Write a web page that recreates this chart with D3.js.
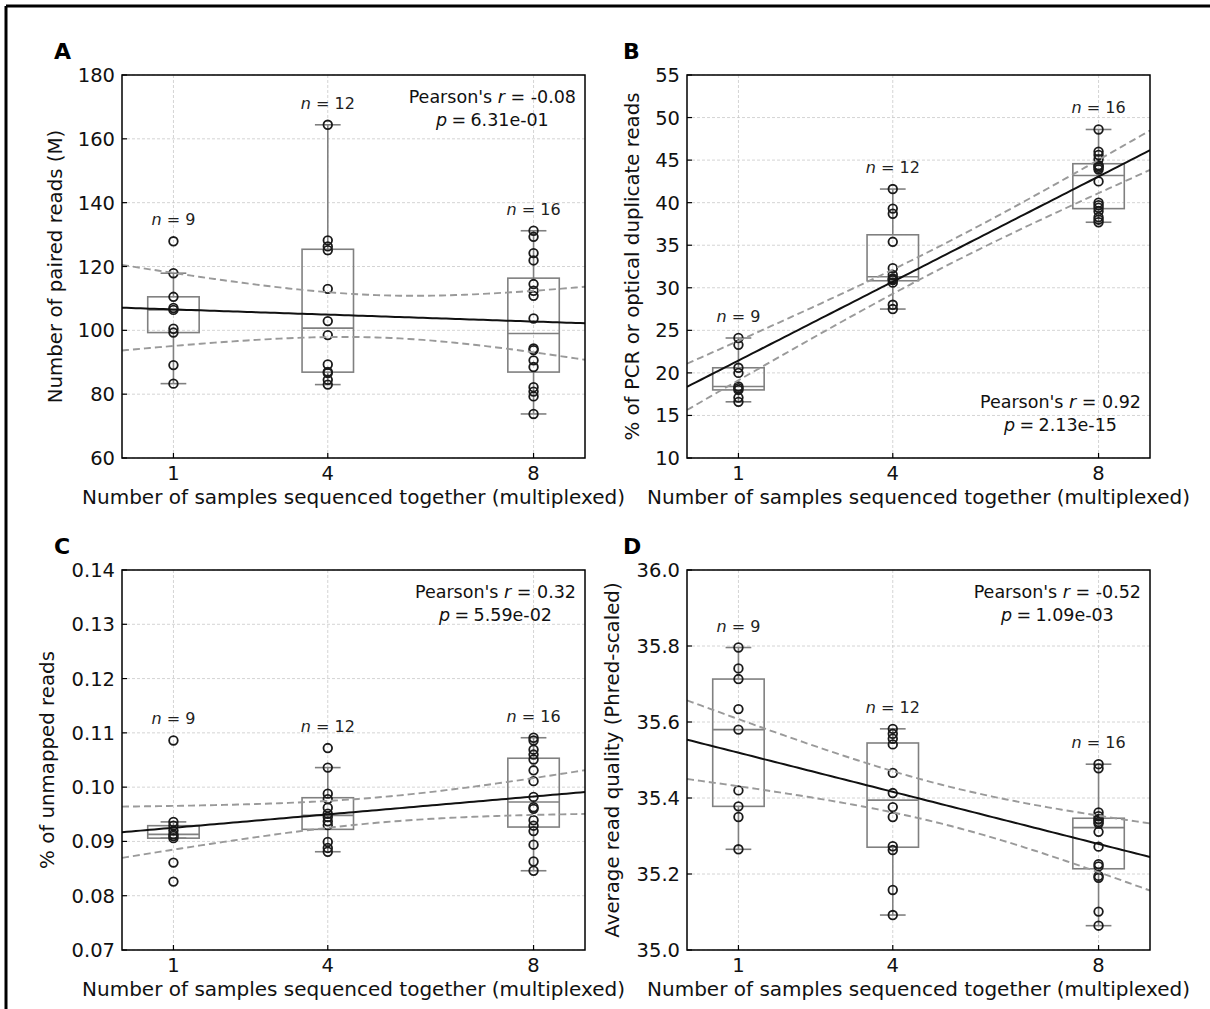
<!DOCTYPE html>
<html><head><meta charset="utf-8">
<script src="https://cdn.jsdelivr.net/npm/d3@7"></script>
<style>
body{margin:0;background:#fff;}
svg{display:block;}
text{font-family:"DejaVu Sans",sans-serif;}
</style>
</head><body>
<svg id="fig" width="1210" height="1009"></svg>
<script>
// ---------------- data ----------------
const multiplexLevels = [1, 4, 8];
const groupSizes = [9, 12, 16];

const pairedReads_1 = [127.9, 117.9, 110.5, 107.0, 106.4, 100.5, 99.3, 89.1, 83.3];
const pairedReads_4 = [164.4, 128.2, 126.3, 125.1, 113.0, 102.9, 98.5, 89.3, 87.0, 86.6, 84.5, 83.0];
const pairedReads_8 = [131.2, 129.3, 124.2, 121.9, 114.5, 112.4, 110.8, 103.7, 94.3, 93.8, 90.6, 88.5, 82.2, 80.8, 79.3, 73.8];

const dupPct_1 = [24.1, 23.3, 20.6, 20.0, 18.4, 18.2, 18.0, 17.1, 16.6];
const dupPct_4 = [41.6, 39.3, 38.7, 35.4, 32.3, 31.5, 31.1, 31.0, 30.9, 30.6, 28.0, 27.5];
const dupPct_8 = [48.6, 46.0, 45.6, 45.1, 44.4, 44.3, 44.1, 43.9, 42.5, 40.0, 39.7, 39.4, 39.0, 38.3, 38.0, 37.7];

const unmappedPct_1 = [0.1086, 0.0936, 0.0929, 0.0920, 0.0913, 0.0910, 0.0906, 0.0861, 0.0826];
const unmappedPct_4 = [0.1072, 0.1036, 0.0988, 0.0978, 0.0962, 0.0951, 0.0945, 0.0937, 0.0930, 0.0899, 0.0888, 0.0881];
const unmappedPct_8 = [0.1091, 0.1086, 0.1069, 0.1060, 0.1051, 0.1031, 0.1011, 0.0982, 0.0963, 0.0960, 0.0939, 0.0929, 0.0919, 0.0894, 0.0863, 0.0846];

const readQual_1 = [35.796, 35.741, 35.713, 35.634, 35.580, 35.420, 35.378, 35.350, 35.265];
const readQual_4 = [35.582, 35.569, 35.556, 35.541, 35.466, 35.413, 35.376, 35.350, 35.273, 35.263, 35.158, 35.092];
const readQual_8 = [35.489, 35.478, 35.362, 35.352, 35.345, 35.343, 35.337, 35.333, 35.311, 35.272, 35.226, 35.220, 35.195, 35.190, 35.101, 35.064];

const ticksReads = [60, 80, 100, 120, 140, 160, 180];
const ticksDup = [10, 15, 20, 25, 30, 35, 40, 45, 50, 55];
const ticksUnmapped = [0.07, 0.08, 0.09, 0.10, 0.11, 0.12, 0.13, 0.14];
const ticksQual = [35.0, 35.2, 35.4, 35.6, 35.8, 36.0];

const pearsonR = ["-0.08", "0.92", "0.32", "-0.52"];
const pearsonP = ["6.31e-01", "2.13e-15", "5.59e-02", "1.09e-03"];

const xLabel = "Number of samples sequenced together (multiplexed)";
const yLabels = ["Number of paired reads (M)", "% of PCR or optical duplicate reads",
                 "% of unmapped reads", "Average read quality (Phred-scaled)"];
const panelLetters = ["A", "B", "C", "D"];

// ---------------- layout ----------------
const panels = [
  {groups:[pairedReads_1, pairedReads_4, pairedReads_8], ticks:ticksReads, fmt:d3.format("d"),
   L:122, T:75, R:585, B:458, ylx:55, stat:"top"},
  {groups:[dupPct_1, dupPct_4, dupPct_8], ticks:ticksDup, fmt:d3.format("d"),
   L:687, T:75, R:1150, B:458, ylx:632, stat:"bottom"},
  {groups:[unmappedPct_1, unmappedPct_4, unmappedPct_8], ticks:ticksUnmapped, fmt:d3.format(".2f"),
   L:122, T:570, R:585, B:950, ylx:47, stat:"top"},
  {groups:[readQual_1, readQual_4, readQual_8], ticks:ticksQual, fmt:d3.format(".1f"),
   L:687, T:570, R:1150, B:950, ylx:612, stat:"top"}
];

const svg = d3.select("#fig");
svg.append("rect").attr("width",1210).attr("height",1009).attr("fill","#fff");
// figure frame (top and left edges)
svg.append("line").attr("x1",6).attr("x2",1210).attr("y1",6).attr("y2",6).attr("stroke","#000").attr("stroke-width",3);
svg.append("line").attr("x1",6).attr("x2",6).attr("y1",6).attr("y2",1009).attr("stroke","#000").attr("stroke-width",3);

const T_CRIT = 2.03; // t(0.975, df=35)

panels.forEach((p, pi) => {
  const g = svg.append("g");
  const x = d3.scaleLinear().domain([0, 9]).range([p.L, p.R]);
  const y = d3.scaleLinear().domain(d3.extent(p.ticks)).range([p.B, p.T]);

  // grid
  g.selectAll(".gy").data(p.ticks).join("line")
    .attr("x1",p.L).attr("x2",p.R).attr("y1",d=>y(d)).attr("y2",d=>y(d))
    .attr("stroke","#c9c9c9").attr("stroke-width",0.8).attr("stroke-dasharray","3,2");
  g.selectAll(".gx").data(multiplexLevels).join("line")
    .attr("x1",d=>x(d)).attr("x2",d=>x(d)).attr("y1",p.T).attr("y2",p.B)
    .attr("stroke","#c9c9c9").attr("stroke-width",0.8).attr("stroke-dasharray","3,2");

  // boxes
  const boxColor = "#808080";
  p.groups.forEach((vals, gi) => {
    const xv = multiplexLevels[gi];
    const s = vals.slice().sort(d3.ascending);
    const q1 = d3.quantileSorted(s, 0.25), med = d3.quantileSorted(s, 0.5), q3 = d3.quantileSorted(s, 0.75);
    const iqr = q3 - q1;
    const lo = d3.min(s.filter(v => v >= q1 - 1.5*iqr));
    const hi = d3.max(s.filter(v => v <= q3 + 1.5*iqr));
    const bg = g.append("g").attr("stroke",boxColor).attr("stroke-width",1.6).attr("fill","none");
    bg.append("rect").attr("x",x(xv-0.5)).attr("width",x(xv+0.5)-x(xv-0.5))
      .attr("y",y(q3)).attr("height",y(q1)-y(q3));
    bg.append("line").attr("x1",x(xv-0.5)).attr("x2",x(xv+0.5)).attr("y1",y(med)).attr("y2",y(med));
    bg.append("line").attr("x1",x(xv)).attr("x2",x(xv)).attr("y1",y(q3)).attr("y2",y(hi));
    bg.append("line").attr("x1",x(xv)).attr("x2",x(xv)).attr("y1",y(q1)).attr("y2",y(lo));
    bg.append("line").attr("x1",x(xv-0.25)).attr("x2",x(xv+0.25)).attr("y1",y(hi)).attr("y2",y(hi));
    bg.append("line").attr("x1",x(xv-0.25)).attr("x2",x(xv+0.25)).attr("y1",y(lo)).attr("y2",y(lo));

    // points
    g.append("g").selectAll("circle").data(vals).join("circle")
      .attr("cx",x(xv)).attr("cy",d=>y(d)).attr("r",4.3)
      .attr("fill","none").attr("stroke","#1a1a1a").attr("stroke-width",1.8);

    // n label
    const nt = g.append("text").attr("x",x(xv)).attr("y",y(d3.max(vals))-16)
      .attr("text-anchor","middle").attr("font-size",16).attr("fill","#222");
    nt.append("tspan").attr("font-style","italic").text("n");
    nt.append("tspan").text(" = " + groupSizes[gi]);
  });

  // regression + 95% CI
  const pts = [];
  p.groups.forEach((vals, gi) => vals.forEach(v => pts.push([multiplexLevels[gi], v])));
  const n = pts.length;
  const xm = d3.mean(pts, d=>d[0]), ym = d3.mean(pts, d=>d[1]);
  const sxx = d3.sum(pts, d=>(d[0]-xm)**2);
  const sxy = d3.sum(pts, d=>(d[0]-xm)*(d[1]-ym));
  const b1 = sxy/sxx, b0 = ym - b1*xm;
  const sres = Math.sqrt(d3.sum(pts, d=>(d[1]-(b0+b1*d[0]))**2)/(n-2));
  const xs = d3.range(0, 9.0001, 0.09);
  const band = xs.map(xx => {
    const yh = b0 + b1*xx;
    const h = T_CRIT*sres*Math.sqrt(1/n + (xx-xm)**2/sxx);
    return {x:xx, y:yh, lo:yh-h, hi:yh+h};
  });
  const clipId = "clip"+pi;
  svg.append("clipPath").attr("id",clipId).append("rect")
    .attr("x",p.L).attr("y",p.T).attr("width",p.R-p.L).attr("height",p.B-p.T);
  const lg = g.append("g").attr("clip-path",`url(#${clipId})`);
  ["lo","hi"].forEach(k => {
    lg.append("path").datum(band).attr("fill","none").attr("stroke","#9a9a9a")
      .attr("stroke-width",1.9).attr("stroke-dasharray","7,4")
      .attr("d", d3.line().x(d=>x(d.x)).y(d=>y(d[k])));
  });
  lg.append("path").datum(band).attr("fill","none").attr("stroke","#111").attr("stroke-width",2)
    .attr("d", d3.line().x(d=>x(d.x)).y(d=>y(d.y)));

  // axes frame
  g.append("rect").attr("x",p.L).attr("y",p.T).attr("width",p.R-p.L).attr("height",p.B-p.T)
    .attr("fill","none").attr("stroke","#000").attr("stroke-width",1.5);

  // y ticks (inward)
  g.selectAll(".ty").data(p.ticks).join("line")
    .attr("x1",p.L).attr("x2",p.L+5).attr("y1",d=>y(d)).attr("y2",d=>y(d))
    .attr("stroke","#000").attr("stroke-width",1.2);
  g.selectAll(".tyl").data(p.ticks).join("text")
    .attr("x",p.L-7).attr("y",d=>y(d)).attr("dy","0.36em")
    .attr("text-anchor","end").attr("font-size",19.5).attr("fill","#111")
    .text(d=>p.fmt(d));
  // x ticks
  g.selectAll(".tx").data(multiplexLevels).join("line")
    .attr("x1",d=>x(d)).attr("x2",d=>x(d)).attr("y1",p.B).attr("y2",p.B-5)
    .attr("stroke","#000").attr("stroke-width",1.2);
  g.selectAll(".txl").data(multiplexLevels).join("text")
    .attr("x",d=>x(d)).attr("y",p.B+22)
    .attr("text-anchor","middle").attr("font-size",19.5).attr("fill","#111")
    .text(d=>d);

  // axis labels
  g.append("text").attr("x",(p.L+p.R)/2).attr("y",p.B+46)
    .attr("text-anchor","middle").attr("font-size",20).attr("fill","#111").text(xLabel);
  g.append("text").attr("transform",`translate(${p.ylx},${(p.T+p.B)/2}) rotate(-90)`)
    .attr("text-anchor","middle").attr("dy","0.36em").attr("font-size",19.8).attr("fill","#111")
    .text(yLabels[pi]);

  // panel letter
  g.append("text").attr("x",p.L - (pi%2===0 ? 68 : 64)).attr("y",p.T-16)
    .attr("font-size",22).attr("font-weight","bold").attr("fill","#000").text(panelLetters[pi]);

  // Pearson annotation
  const y1 = p.stat === "top" ? p.T+28 : p.B-50;
  const t1 = g.append("text").attr("y",y1).attr("text-anchor","middle").attr("font-size",17.5).attr("fill","#111");
  t1.append("tspan").text("Pearson's ");
  t1.append("tspan").attr("font-style","italic").text("r");
  t1.append("tspan").text(" = " + pearsonR[pi]);
  const t2 = g.append("text").attr("y",y1+23).attr("text-anchor","middle").attr("font-size",17.5).attr("fill","#111");
  t2.append("tspan").attr("font-style","italic").text("p");
  t2.append("tspan").text("\u2005=\u2005" + pearsonP[pi]);
  const w1 = t1.node().getComputedTextLength();
  const cx = p.R - 9 - w1/2;
  t1.attr("x",cx); t2.attr("x",cx);
});
</script>
</body></html>
